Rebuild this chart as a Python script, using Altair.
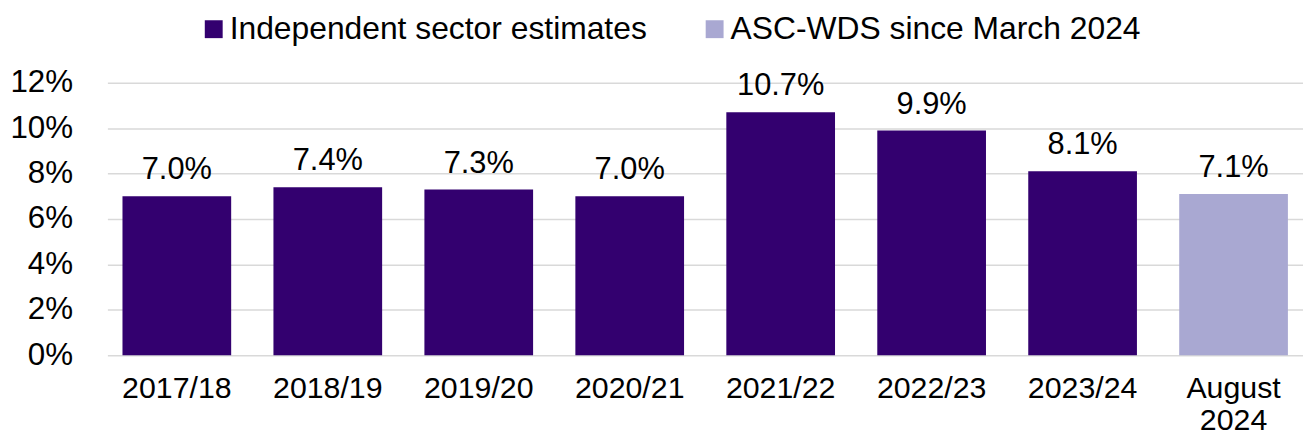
import altair as alt
import pandas as pd

categories = ["2017/18", "2018/19", "2019/20", "2020/21", "2021/22", "2022/23", "2023/24", "August 2024"]
values = [7.0, 7.4, 7.3, 7.0, 10.7, 9.9, 8.1, 7.1]
series = ["Independent sector estimates"] * 7 + ["ASC-WDS since March 2024"]
labels = ["7.0%", "7.4%", "7.3%", "7.0%", "10.7%", "9.9%", "8.1%", "7.1%"]

series_names = ["Independent sector estimates", "ASC-WDS since March 2024"]
series_colors = ["#33006F", "#A9A8D2"]

df = pd.DataFrame({"cat": categories, "val": values, "series": series, "label": labels})

FONT = "Liberation Sans"
FS = 31.5

x = alt.X("cat:N", sort=categories, title=None,
          scale=alt.Scale(paddingInner=0.28, paddingOuter=0.1),
          axis=alt.Axis(labelAngle=0, labelFontSize=30.5, labelFont=FONT, labelColor="#000000",
                        labelPadding=19, ticks=False, domain=False, grid=False,
                        labelLineHeight=32,
                        labelExpr="datum.label == 'August 2024' ? ['August', '2024'] : datum.label"))

y = alt.Y("val:Q", title=None,
          scale=alt.Scale(domain=[0, 12], nice=False),
          axis=alt.Axis(values=[0, 2, 4, 6, 8, 10, 12], labelExpr="datum.value + '%'",
                        labelFontSize=FS, labelFont=FONT, labelColor="#000000",
                        labelPadding=35, ticks=False, domain=False,
                        grid=True, gridColor="#D9D9D9", gridWidth=1.5))

bars = alt.Chart(df).mark_bar().encode(
    x=x, y=y,
    color=alt.Color("series:N", scale=alt.Scale(domain=series_names, range=series_colors),
                    legend=alt.Legend(title=None, orient="none", legendX=91, legendY=-70,
                                      direction="horizontal", symbolType="square", symbolSize=324,
                                      symbolStrokeWidth=0, labelFontSize=32, labelFont=FONT,
                                      labelColor="#000000", labelLimit=700, columnPadding=52,
                                      labelOffset=0, padding=0))
)

text = alt.Chart(df).mark_text(font=FONT, fontSize=31, color="#000000", baseline="alphabetic", dy=-17).encode(
    x=alt.X("cat:N", sort=categories), y="val:Q", text="label:N"
)

chart = (bars + text).properties(
    width=1203, height=274,
    autosize=alt.AutoSizeParams(type="none"),
    padding={"left": 100, "top": 74, "right": 0, "bottom": 81}
).configure_view(stroke=None)

chart.save("out.html", embed_options={"renderer": "svg", "actions": False})
